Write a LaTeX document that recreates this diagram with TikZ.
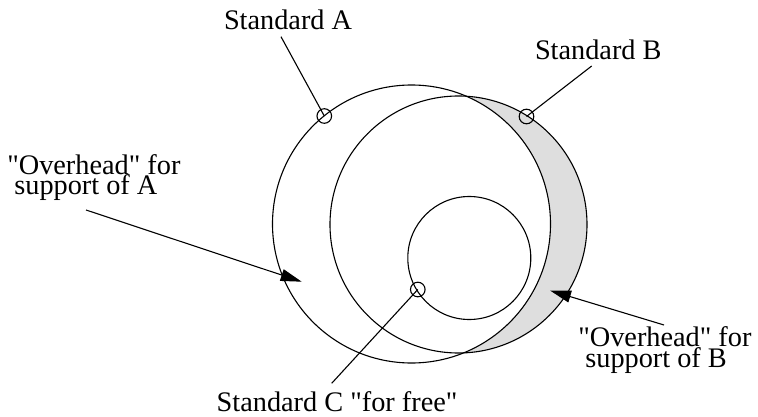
\documentclass[tikz,border=0pt]{standalone}
\usepackage{fontspec}
\setmainfont{Liberation Serif}[Ligatures=TeXOff]
\usetikzlibrary{arrows.meta}
\definecolor{crescent}{RGB}{222,222,222}
\begin{document}
\begin{tikzpicture}[x=1pt,y=1pt,
  ln/.style={line width=1.1pt},
  ring/.style={circle, draw, line width=1.1pt, inner sep=0pt, outer sep=0pt},
  marker/.style={circle, draw, line width=1.1pt, inner sep=0pt, outer sep=0pt, minimum size=14.6pt},
  lbl/.style={inner sep=0pt, outer sep=0pt, anchor=base west, align=left,
    font=\fontsize{28.3pt}{20.6pt}\selectfont},
  arr/.style={line width=1.1pt, -{Triangle[length=21pt,width=12pt]}}]
\useasboundingbox (0,0) rectangle (758,416);
% crescent fill: B minus A
\fill[crescent] (458.5,191.5) circle[radius=128.5pt];
\fill[white] (411.5,192) circle[radius=139pt];
% circles
\node[ring, minimum size=278pt] (A) at (411.5,192) {};
\node[ring, minimum size=257pt] (B) at (458.5,191.5) {};
\node[ring, minimum size=123pt] (C) at (469.3,158) {};
% markers
\node[marker] (mA) at (324.3,300) {};
\node[marker] (mB) at (526.5,299.5) {};
\node[marker] (mC) at (417.8,126.5) {};
% labels
\node[lbl] (tA) at (224,386) {Standard A};
\node[lbl] (tB) at (535,356.7) {Standard B};
\node[lbl] (tC) at (216.7,5) {Standard C "for free"};
\node[lbl] (oA) at (7.3,221.1) {"Overhead" for\\\hspace*{0.25em}support of A};
\node[lbl] (oB) at (578.3,48.7) {"Overhead" for\\\hspace*{0.25em}support of B};
% leader ends
\coordinate (lA) at (281,379.3);
\coordinate (lB) at (591.7,350);
\coordinate (lC) at (331.7,32.7);
\coordinate (sA) at (86,206);
\coordinate (eA) at (301.7,134.3);
\coordinate (sB) at (664,91);
\coordinate (eB) at (550,125.5);
\draw[ln] (lA) -- (mA.center);
\draw[ln] (lB) -- (mB.center);
\draw[ln] (lC) -- (mC.center);
\draw[arr] (sA) -- (eA);
\draw[arr] (sB) -- (eB);
\end{tikzpicture}
\end{document}
